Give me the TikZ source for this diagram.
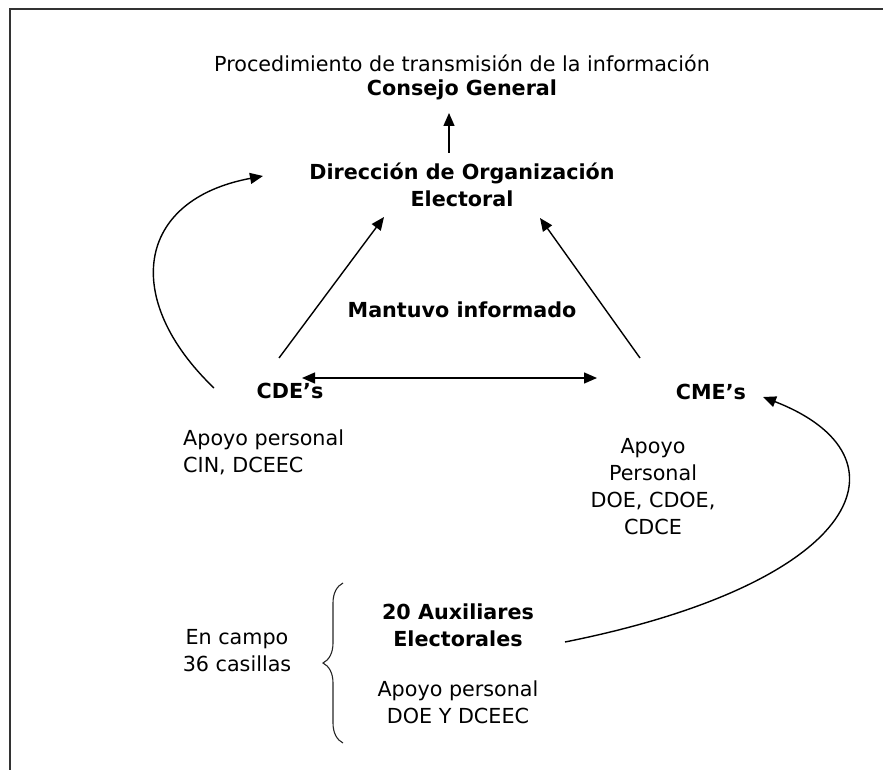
\documentclass[tikz,border=0pt]{standalone}
\usepackage{fontspec}
\setmainfont{DejaVu Sans}
\usetikzlibrary{arrows.meta,decorations.pathreplacing}

\begin{document}
\begin{tikzpicture}[x=1pt,y=-1pt,
        txt/.style={font=\fontsize{20.7}{27}\selectfont, align=center, inner sep=0pt},
        hd/.style={font=\fontsize{20.7}{27}\selectfont\bfseries, align=center, inner sep=0pt},
        tip/.tip={Triangle[length=13pt,width=11pt]},
        arr/.style={line width=1.4pt, -tip}]
        \useasboundingbox (0,0) rectangle (883,770);
        \draw[line width=1.6pt, black!80] (10,770) -- (10,9) -- (883,9);

        \node[txt] (proc) at (462,63) {Procedimiento de transmisión de la información};
        \node[hd] (cg) at (462,90) {Consejo General};
        \node[hd] (dir) at (462,185) {Dirección de Organización\\Electoral};
        \node[hd] (mant) at (462,310) {Mantuvo informado};
        \node[hd] (cde) at (290,391) {CDE’s};
        \node[hd] (cme) at (711,392) {CME’s};
        \node[txt, align=left, anchor=west] (cdeap) at (183,452) {Apoyo personal\\CIN, DCEEC};
        \node[txt] (cmeap) at (653,487) {Apoyo\\Personal\\DOE, CDOE,\\CDCE};
        \node[hd] (aux) at (458,625) {20 Auxiliares\\Electorales};
        \node[txt] (auxap) at (458,702) {Apoyo personal\\DOE Y DCEEC};
        \node[txt] (campo) at (237,651) {En campo\\36 casillas};

        \coordinate (cg-in) at (449,113);
        \coordinate (dir-out) at (449,153);
        \coordinate (dir-l) at (384,217);
        \coordinate (dir-r) at (540,218);
        \coordinate (dir-w) at (263,176);
        \coordinate (cde-n) at (279,358);
        \coordinate (cde-e) at (302,378);
        \coordinate (cde-w) at (214,388);
        \coordinate (cme-n) at (640,358);
        \coordinate (cme-w) at (597,378);
        \coordinate (cme-e) at (763,397);
        \coordinate (aux-e) at (565,642);

        \draw[arr] (dir-out) -- (cg-in);
        \draw[arr] (cde-n) -- (dir-l);
        \draw[arr] (cme-n) -- (dir-r);
        \draw[arr, tip-tip] (cde-e) -- (cme-w);
        \draw[arr] (cde-w) .. controls (122,300) and (135,200) .. (dir-w);
        \draw[arr] (aux-e) .. controls (865,582) and (915,456) .. (cme-e);

        \draw[line width=1.1pt, black!85, decorate, decoration={brace, amplitude=20pt}]
            (343,743) -- (343,583);
\end{tikzpicture}
\end{document}
